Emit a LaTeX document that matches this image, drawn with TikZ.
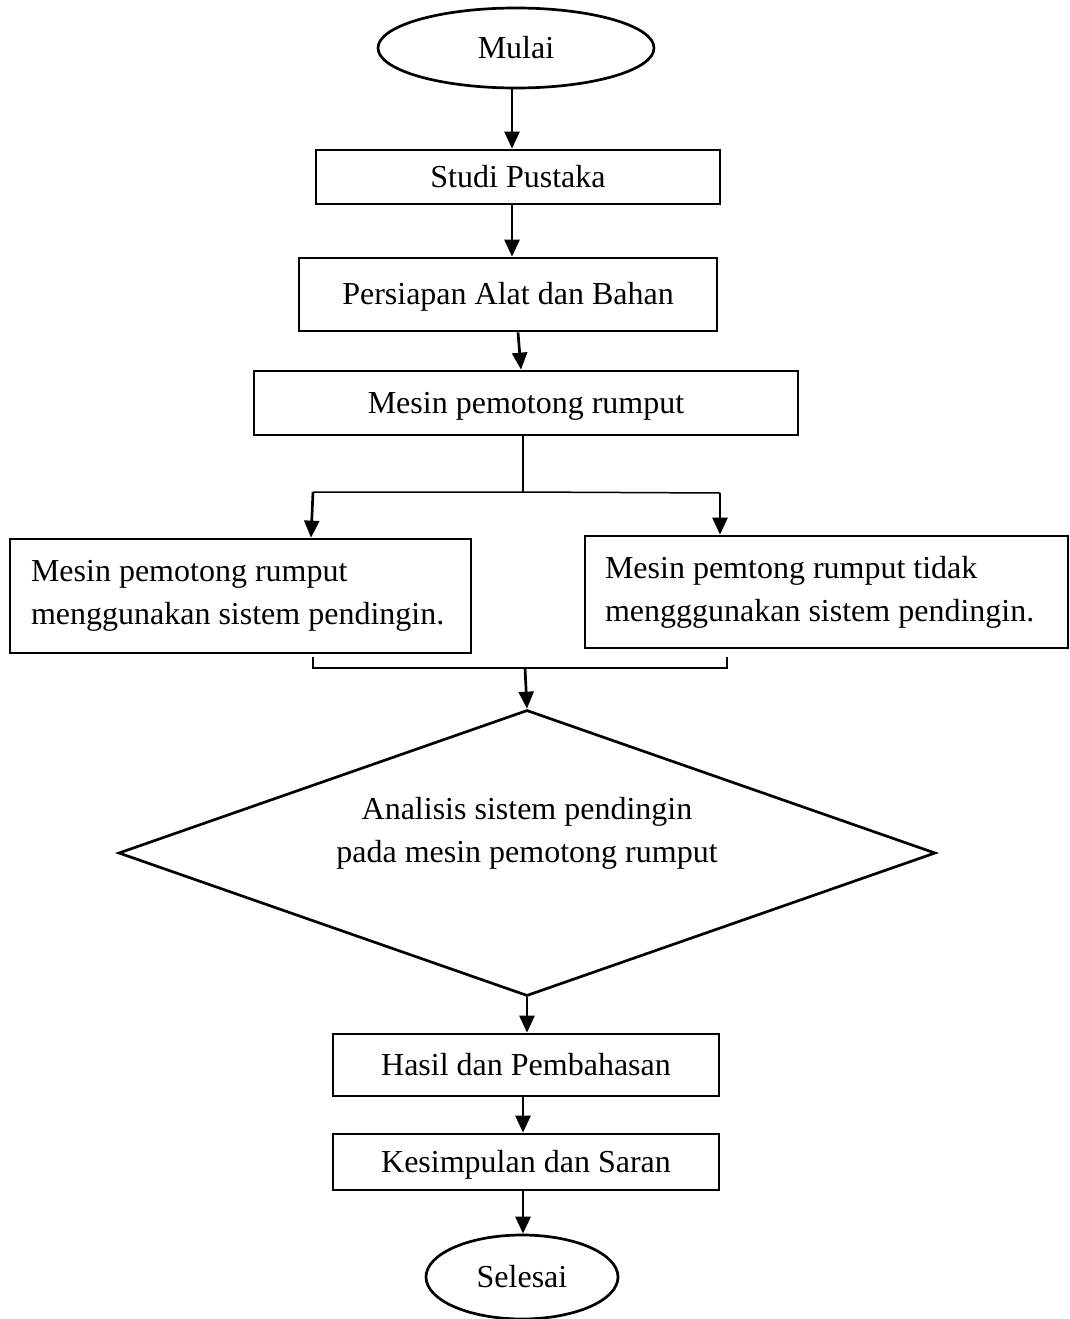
\documentclass[tikz,border=0pt]{standalone}
\usepackage{fontspec}
\setmainfont{Liberation Serif}
\usetikzlibrary{shapes.geometric,arrows.meta}
\begin{document}
\begin{tikzpicture}[x=1pt,y=-1pt,
  every node/.style={font=\fontsize{32}{43}\selectfont},
  box/.style={draw,line width=2.7pt,rectangle,inner sep=0pt},
  term/.style={draw,line width=2.7pt,ellipse,inner sep=0pt},
  arr/.style={line width=2.7pt,-{Triangle[length=17pt,width=15pt]}},
  thinline/.style={line width=1.5pt}]
\useasboundingbox (0,0) rectangle (1069,1319);
% nodes
\node[term,minimum width=276pt,minimum height=80pt] (mulai) at (516,48) {Mulai};
\node[box,minimum width=404pt,minimum height=54pt,text height=24pt,text depth=4pt] (studi) at (518,177) {Studi Pustaka};
\node[box,minimum width=418pt,minimum height=73pt,text height=24pt,text depth=4pt] (persiapan) at (508,294.5) {Persiapan Alat dan Bahan};
\node[box,minimum width=544pt,minimum height=64pt,text height=24pt,text depth=4pt] (mesin) at (526,403) {Mesin pemotong rumput};
\node[box,minimum height=114pt,text width=419pt,inner xsep=21pt,align=flush left] (left) at (240.5,596)
  {Mesin pemotong rumput\\menggunakan sistem pendingin.};
\node[box,minimum height=112pt,text width=443pt,inner xsep=20pt,align=flush left] (right) at (826.5,592)
  {Mesin pemtong rumput tidak\\mengggunakan sistem pendingin.};
\node[draw,line width=2.7pt,diamond,inner sep=0pt,aspect=2.857,minimum width=817pt,minimum height=286pt] (ana) at (527,853) {};
\node[align=center] (anatext) at (527,833) {Analisis sistem pendingin\\pada mesin pemotong rumput};
\node[box,minimum width=386pt,minimum height=62pt,text height=24pt,text depth=4pt] (hasil) at (526,1065) {Hasil dan Pembahasan};
\node[box,minimum width=386pt,minimum height=56pt,text height=24pt,text depth=4pt] (kesim) at (526,1162) {Kesimpulan dan Saran};
\node[term,minimum width=192pt,minimum height=84pt] (selesai) at (522,1277) {Selesai};
% coordinates
\coordinate (split) at (523,492);
\coordinate (lb) at (313,492);
\coordinate (rb) at (720,493);
\coordinate (jl) at (313,657);
\coordinate (jl2) at (313,668);
\coordinate (jr2) at (727,668);
\coordinate (jr) at (727,657);
\coordinate (join) at (525,668);
% connectors
\draw[arr] ([xshift=-4pt]mulai.south) -- ([xshift=-4pt]mulai.south |- studi.north);
\draw[arr] ([xshift=-6pt]studi.south) -- ([xshift=-6pt]studi.south |- persiapan.north);
\draw[arr] ([xshift=10pt]persiapan.south) -- ([xshift=-5pt]mesin.north);
\draw[thinline] ([xshift=-3pt]mesin.south) -- (split);
\draw[thinline] (lb) -- (split) -- (rb);
\draw[arr] (lb) -- ([xshift=-2pt]lb |- left.north);
\draw[arr] (rb) -- (rb |- right.north);
\draw[thinline] (jl) -- (jl2) -- (jr2) -- (jr);
\draw[arr] (join) -- (ana.north);
\draw[arr] (ana.south) -- (ana.south |- hasil.north);
\draw[arr] ([xshift=-3pt]hasil.south) -- ([xshift=-3pt]hasil.south |- kesim.north);
\draw[arr] ([xshift=-3pt]kesim.south) -- ([xshift=-3pt]kesim.south |- selesai.north);
\end{tikzpicture}
\end{document}
